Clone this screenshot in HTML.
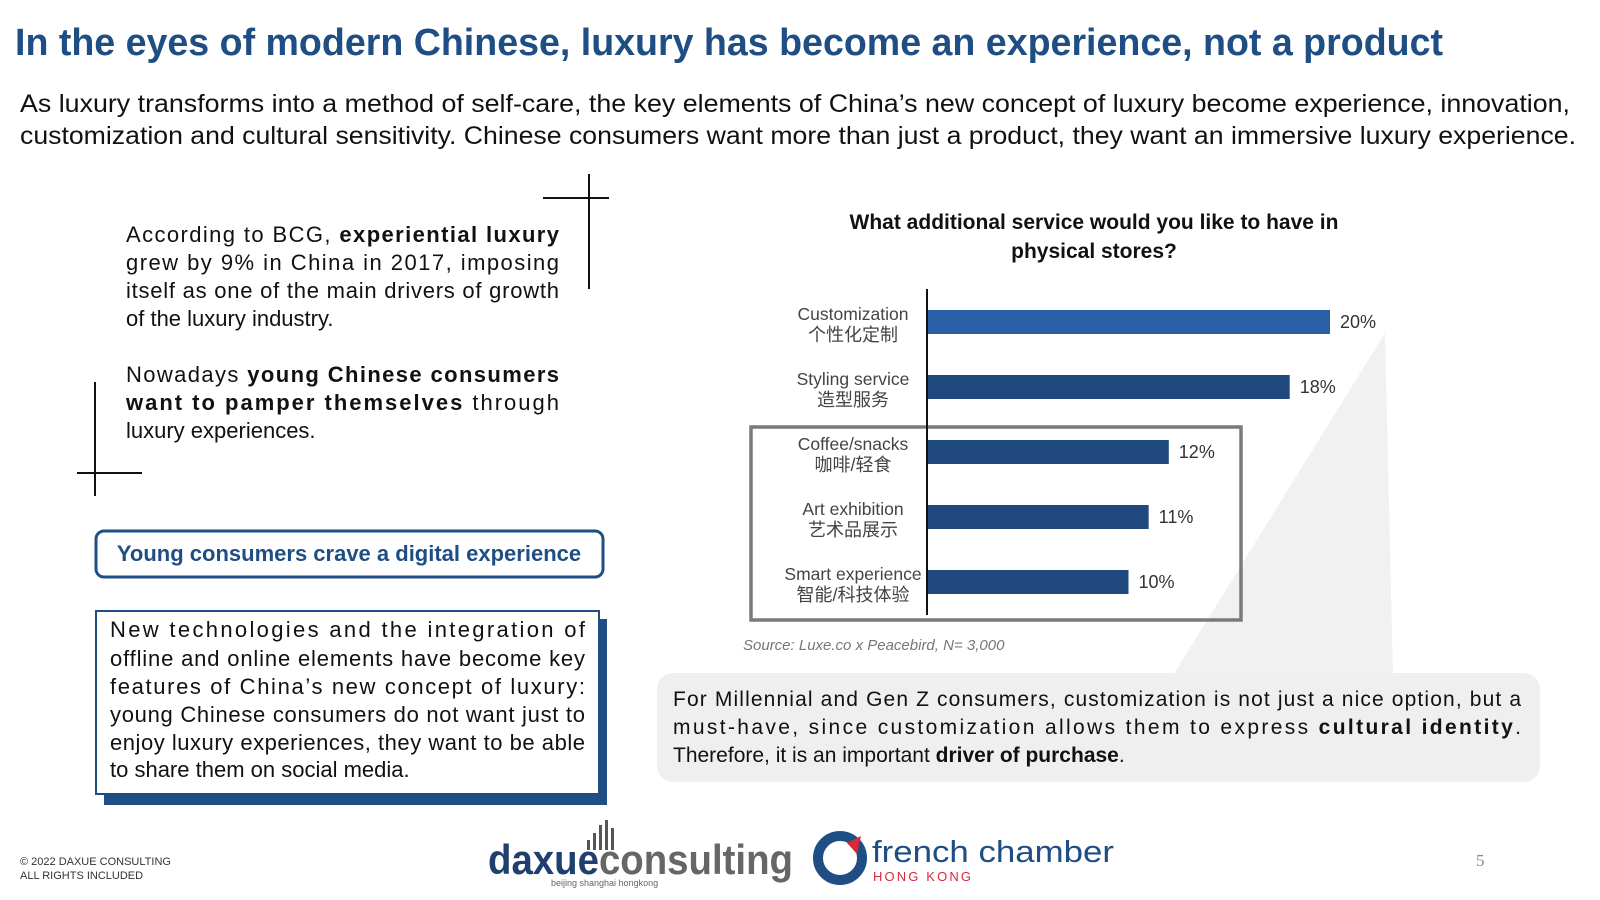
<!DOCTYPE html>
<html><head><meta charset="utf-8"><style>
html,body{margin:0;padding:0;background:#fff;}
svg{display:block;font-family:"Liberation Sans","Noto Sans CJK SC",sans-serif;}
</style></head><body>
<svg id="page" width="1600" height="900" viewBox="0 0 1600 900">
<text x="15" y="55" font-size="38" font-weight="bold" fill="#1f4e85" textLength="1428" lengthAdjust="spacingAndGlyphs">In the eyes of modern Chinese, luxury has become an experience, not a product</text>
<g font-size="25" fill="#111">
<text x="20" y="112" textLength="1550" lengthAdjust="spacingAndGlyphs">As luxury transforms into a method of self-care, the key elements of China’s new concept of luxury become experience, innovation,</text>
<text x="20" y="144" textLength="1556" lengthAdjust="spacingAndGlyphs">customization and cultural sensitivity. Chinese consumers want more than just a product, they want an immersive luxury experience.</text>
</g>
<g stroke="#111" stroke-width="2"><line x1="589" y1="174" x2="589" y2="289"/><line x1="543" y1="198" x2="609" y2="198"/></g>
<g stroke="#111" stroke-width="2"><line x1="95" y1="382" x2="95" y2="496"/><line x1="77" y1="473" x2="142" y2="473"/></g>
<g font-size="22" fill="#111">
<text x="126" y="242" textLength="433" lengthAdjust="spacing">According to BCG, <tspan font-weight="bold">experiential luxury</tspan></text>
<text x="126" y="270" textLength="433" lengthAdjust="spacing">grew by 9% in China in 2017, imposing</text>
<text x="126" y="298" textLength="433" lengthAdjust="spacing">itself as one of the main drivers of growth</text>
<text x="126" y="326">of the luxury industry.</text>
<text x="126" y="382" textLength="433" lengthAdjust="spacing">Nowadays <tspan font-weight="bold">young Chinese consumers</tspan></text>
<text x="126" y="410" textLength="433" lengthAdjust="spacing"><tspan font-weight="bold">want to pamper themselves</tspan> through</text>
<text x="126" y="438">luxury experiences.</text>
</g>
<rect x="96" y="531" width="507" height="46" rx="8" fill="#fff" stroke="#1f4e85" stroke-width="3"/>
<text x="349" y="561" font-size="22" font-weight="bold" fill="#1f4e85" text-anchor="middle">Young consumers crave a digital experience</text>
<rect x="104" y="619" width="503" height="186" fill="#1f4e85"/>
<rect x="96" y="611" width="503" height="183" fill="#fff" stroke="#1f4e85" stroke-width="2"/>
<g font-size="22" fill="#111">
<text x="110" y="637" textLength="475" lengthAdjust="spacing">New technologies and the integration of</text>
<text x="110" y="666" textLength="475" lengthAdjust="spacing">offline and online elements have become key</text>
<text x="110" y="694" textLength="475" lengthAdjust="spacing">features of China’s new concept of luxury:</text>
<text x="110" y="722" textLength="475" lengthAdjust="spacing">young Chinese consumers do not want just to</text>
<text x="110" y="750" textLength="475" lengthAdjust="spacing">enjoy luxury experiences, they want to be able</text>
<text x="110" y="777">to share them on social media.</text>
</g>
<polygon points="1385,333 1172,677 1393,677" fill="#f1f1f1"/>
<rect x="657" y="673" width="883" height="109" rx="16" fill="#efefef"/>
<g font-size="21" fill="#111">
<text x="673" y="706" textLength="848" lengthAdjust="spacing">For Millennial and Gen Z consumers, customization is not just a nice option, but a</text>
<text x="673" y="734" textLength="848" lengthAdjust="spacing">must-have, since customization allows them to express <tspan font-weight="bold">cultural identity</tspan>.</text>
<text x="673" y="762">Therefore, it is an important <tspan font-weight="bold">driver of purchase</tspan>.</text>
</g>
<g font-size="21" font-weight="bold" fill="#111" text-anchor="middle">
<text x="1094" y="229">What additional service would you like to have in</text>
<text x="1094" y="258">physical stores?</text>
</g>
<rect x="751" y="427" width="490" height="193" fill="none" stroke="#7a7a7a" stroke-width="3.5"/>
<g id="chart"></g>
<text x="743" y="650" font-size="15" font-style="italic" fill="#777">Source: Luxe.co x Peacebird, N= 3,000</text>
<g font-size="11" fill="#333"><text x="20" y="865">© 2022 DAXUE CONSULTING</text><text x="20" y="879">ALL RIGHTS INCLUDED</text></g>
<g>
<g fill="#555"><rect x="587" y="840" width="3" height="10"/><rect x="593" y="833" width="3" height="17"/><rect x="599" y="825" width="3" height="25"/><rect x="605" y="820" width="3" height="30"/><rect x="611" y="828" width="3" height="22"/></g>
<text x="488" y="874" font-size="42" font-weight="bold" textLength="305" lengthAdjust="spacingAndGlyphs"><tspan fill="#1f3f6e">daxue</tspan><tspan fill="#666">consulting</tspan></text>
<text x="551" y="886" font-size="9" fill="#666">beijing shanghai hongkong</text>
</g>
<g>
<circle cx="840" cy="858" r="22" fill="none" stroke="#1f4e85" stroke-width="10"/>
<path d="M847 843 L861 836 L857 854 Z" fill="#d8283c"/>
<text x="872" y="862" font-size="31" fill="#1f4e85" textLength="242" lengthAdjust="spacingAndGlyphs">french chamber</text>
<text x="873" y="881" font-size="13" fill="#d8283c" textLength="98" lengthAdjust="spacing">HONG KONG</text>
</g>
<text x="1476" y="866" font-size="17" fill="#888" font-family="Liberation Serif, serif">5</text>
</svg>
<script>
const categories = ["Customization", "Styling service", "Coffee/snacks", "Art exhibition", "Smart experience"];
const categoriesZh = ["个性化定制", "造型服务", "咖啡/轻食", "艺术品展示", "智能/科技体验"];
const values = [20, 18, 12, 11, 10];
const valueLabels = ["20%", "18%", "12%", "11%", "10%"];
const NS = "http://www.w3.org/2000/svg";
const g = document.getElementById("chart");
const x0 = 927, pxPer = 20.15, yTop = 322, step = 65, barH = 24;
const xScale = v => x0 + v * pxPer;
const yScale = i => yTop + i * step;
function mk(tag, attrs) { const e = document.createElementNS(NS, tag); for (const k in attrs) e.setAttribute(k, attrs[k]); return e; }
categories.forEach((c, i) => {
  const cy = yScale(i);
  const r = mk("rect", {x: x0, y: cy - barH / 2, width: xScale(values[i]) - x0, height: barH, fill: i === 0 ? "#2a5fa5" : "#1f497d"});
  
  
  g.appendChild(r);
  const v = mk("text", {x: xScale(values[i]) + 10, y: cy + 6, "font-size": 18, fill: "#333"});
  v.textContent = valueLabels[i];
  
  
  g.appendChild(v);
  const t1 = mk("text", {x: 853, y: cy - 2, "font-size": 17.5, fill: "#444", "text-anchor": "middle"});
  t1.textContent = c;
  
  
  g.appendChild(t1);
  const t2 = mk("text", {x: 853, y: cy + 19, "font-size": 18, fill: "#444", "text-anchor": "middle"});
  t2.textContent = categoriesZh[i];
  
  
  g.appendChild(t2);
});
const ax = mk("line", {x1: x0, y1: 289, x2: x0, y2: 615, stroke: "#111", "stroke-width": 2});


g.appendChild(ax);
</script>
</body></html>
